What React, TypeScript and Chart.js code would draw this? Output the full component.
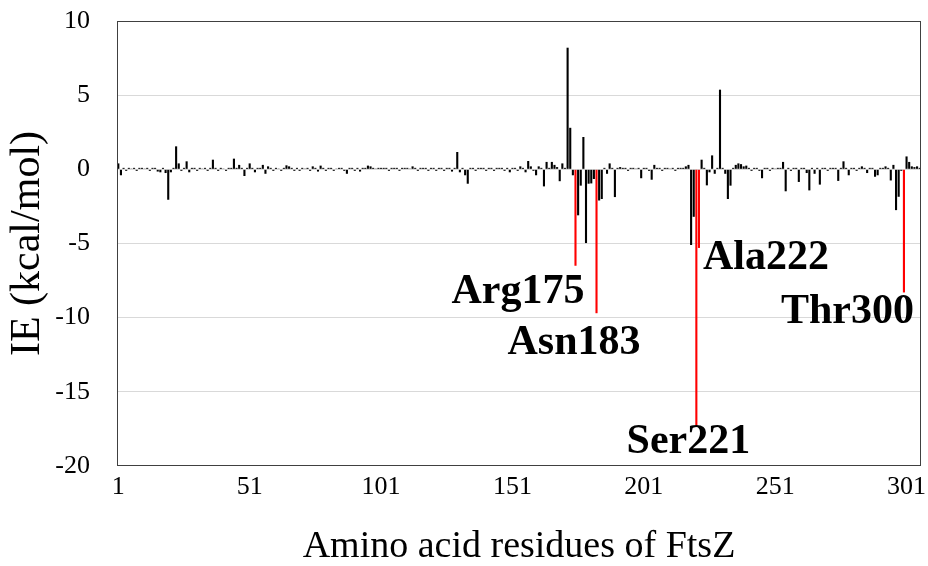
import { useEffect, useRef } from "react";
import { Chart, registerables } from "chart.js";

Chart.register(...registerables);

const FONT = "'Liberation Serif', 'Times New Roman', serif";

// Residue numbers of FtsZ (categories)
const residues: number[] = Array.from({ length: 306 }, (_, i) => i + 1);

// Interaction energy per residue (kcal/mol), residues 1..306
const ieValues: number[] = [
  0.4, -0.4, 0.1, -0.1, 0.1, 0.05, 0.1, -0.1, 0.1, 0.1,
  0.05, 0.1, -0.1, 0.1, 0.1, -0.15, -0.2, 0.1, -0.25, -2.05,
  -0.2, 0.1, 1.55, 0.4, -0.1, 0.1, 0.54, -0.2, 0.1, 0.1,
  -0.1, 0.1, 0.05, 0.1, -0.1, 0.1, 0.65, 0.1, -0.1, 0.1,
  0.05, -0.1, 0.1, 0.1, 0.72, 0.1, 0.3, 0.1, -0.45, 0.1,
  0.4, 0.1, -0.2, 0.1, 0.1, 0.3, -0.3, 0.2, 0.1, -0.1,
  0.1, 0.05, -0.1, 0.1, 0.27, 0.2, 0.1, -0.1, 0.1, -0.1,
  0.1, 0.05, 0.1, -0.1, 0.2, 0.1, -0.15, 0.25, 0.1, -0.1,
  0.1, 0.1, -0.1, 0.05, 0.1, 0.1, -0.1, -0.3, 0.1, 0.1,
  -0.1, 0.1, -0.15, 0.1, 0.1, 0.25, 0.2, 0.1, 0.05, 0.1,
  0.1, 0.1, 0.1, -0.1, 0.1, 0.1, 0.1, -0.1, 0.1, 0.1,
  0.1, 0.05, 0.2, 0.1, -0.1, 0.1, 0.1, 0.1, -0.1, 0.1,
  0.1, -0.1, 0.1, 0.1, -0.1, 0.1, 0.1, -0.15, 0.1, 1.17,
  -0.2, 0.1, -0.4, -0.97, 0.1, 0.1, -0.1, 0.1, 0.1, 0.1,
  -0.1, 0.1, 0.1, -0.1, 0.1, 0.1, 0.1, -0.1, 0.1, -0.2,
  0.1, 0.1, -0.1, 0.2, 0.1, -0.2, 0.56, 0.2, -0.1, -0.4,
  0.2, 0.1, -1.15, 0.5, 0.1, 0.5, 0.3, 0.15, -0.8, 0.4,
  0.1, 8.2, 2.8, -0.4, -6.5, -3.1, -1.1, 2.18, -4.97, -0.97,
  -0.95, -0.65, -9.7, -2.1, -2.0, 0.1, -0.3, 0.4, 0.1, -1.87,
  0.1, 0.15, 0.1, 0.1, -0.1, 0.1, 0.1, 0.05, 0.1, -0.6,
  0.1, 0.1, -0.1, -0.7, 0.3, 0.1, 0.1, -0.1, 0.1, 0.1,
  0.05, 0.1, -0.1, 0.1, 0.1, 0.1, 0.2, 0.3, -5.1, -3.2,
  -17.3, -5.3, 0.65, 0.1, -1.08, -0.2, 0.94, -0.3, 0.1, 5.37,
  0.1, -0.3, -2.0, -1.1, 0.1, 0.3, 0.4, 0.35, 0.2, 0.25,
  0.1, -0.1, 0.1, 0.1, -0.1, -0.6, 0.1, 0.1, -0.1, 0.1,
  0.05, 0.1, 0.1, 0.5, -1.48, 0.1, -0.1, 0.1, 0.1, -0.85,
  0.1, 0.1, -0.25, -1.42, 0.1, -0.3, 0.1, -1.03, 0.1, 0.1,
  -0.1, 0.1, 0.1, 0.1, -0.78, 0.1, 0.54, 0.1, -0.4, 0.1,
  0.1, -0.1, 0.1, 0.2, 0.1, -0.25, 0.1, 0.1, -0.5, -0.4,
  0.1, 0.1, 0.2, 0.1, -0.75, 0.3, -2.75, -1.85, -0.1, -8.3,
  0.87, 0.5, 0.2, 0.15, 0.2, 0.1,
];

// Key residues highlighted in red
const highlightResidues: number[] = [175, 183, 221, 222, 300];
const highlightNames: string[] = ["Arg175", "Asn183", "Ser221", "Ala222", "Thr300"];

// Axis tick labels
const xTickLabels: string[] = ["1", "51", "101", "151", "201", "251", "301"];
const yTickValues: number[] = [10, 5, 0, -5, -10, -15, -20];

// label placement relative to the bar tip (style)
const labelPlacement: { align: CanvasTextAlign; dx: number; dy: number }[] = [
  { align: "right", dx: 9, dy: 26 },
  { align: "right", dx: 44, dy: 30 },
  { align: "center", dx: -8, dy: 16 },
  { align: "left", dx: 4, dy: 10 },
  { align: "right", dx: 10, dy: 20 },
];

const residueLabelPlugin = {
  id: "residueLabels",
  afterDatasetsDraw(chart: any) {
    const { ctx, chartArea, scales } = chart;
    const xs = scales.x;
    const ys = scales.y;
    ctx.save();
    // plot-area frame
    ctx.strokeStyle = "#404040";
    ctx.lineWidth = 1;
    const l = Math.round(chartArea.left) + 0.5;
    const t = Math.round(chartArea.top) + 0.5;
    const r = Math.round(chartArea.right) - 0.5;
    const b = Math.round(chartArea.bottom) - 0.5;
    ctx.strokeRect(l, t, r - l, b - t);
    // residue labels
    ctx.fillStyle = "#000";
    ctx.font = `bold 42px ${FONT}`;
    ctx.textBaseline = "middle";
    highlightResidues.forEach((res, i) => {
      const idx = residues.indexOf(res);
      const px = xs.getPixelForValue(idx);
      const py = ys.getPixelForValue(ieValues[idx]);
      const p = labelPlacement[i];
      ctx.textAlign = p.align;
      ctx.fillText(highlightNames[i], px + p.dx, py + p.dy);
    });
    ctx.restore();
  },
};

export default function App() {
  const canvasRef = useRef<HTMLCanvasElement | null>(null);

  useEffect(() => {
    if (!canvasRef.current) return;
    const colors = residues.map((r) => (highlightResidues.includes(r) ? "#ff0000" : "#000000"));
    const chart = new Chart(canvasRef.current, {
      type: "bar",
      data: {
        labels: residues.map(String),
        datasets: [
          {
            data: ieValues,
            backgroundColor: colors,
            borderWidth: 0,
            categoryPercentage: 1,
            barPercentage: 0.8,
          },
        ],
      },
      options: {
        animation: false,
        responsive: true,
        maintainAspectRatio: false,
        layout: { padding: { top: 21, right: 7, left: 0, bottom: 0 } },
        plugins: { legend: { display: false }, tooltip: { enabled: false } },
        scales: {
          x: {
            grid: { display: false, drawTicks: false },
            border: { display: false },
            ticks: {
              autoSkip: false,
              maxRotation: 0,
              minRotation: 0,
              padding: 6,
              color: "#000",
              font: { family: FONT, size: 26 },
              callback: (_v: any, i: number) => {
                const s = String(residues[i]);
                return xTickLabels.includes(s) ? s : "";
              },
            },
            title: {
              display: true,
              text: "Amino acid residues of FtsZ",
              color: "#000",
              font: { family: FONT, size: 38, lineHeight: 1 },
              padding: { top: 0, bottom: 0 },
            },
            afterFit: (s: any) => {
              s.height = 100;
              s.paddingLeft = 0;
              s.paddingRight = 0;
            },
          },
          y: {
            min: -20,
            max: 10,
            afterBuildTicks: (s: any) => {
              s.ticks = yTickValues.map((v) => ({ value: v }));
            },
            grid: {
              drawTicks: false,
              color: (c: any) =>
                c.tick && (c.tick.value === 10 || c.tick.value === -20) ? "rgba(0,0,0,0)" : "#d9d9d9",
            },
            border: { display: false },
            ticks: {
              padding: 27,
              color: "#000",
              font: { family: FONT, size: 26 },
            },
            title: {
              display: true,
              text: "IE (kcal/mol)",
              color: "#000",
              font: { family: FONT, size: 42, lineHeight: 1 },
              padding: { top: 7, bottom: 0 },
            },
            afterFit: (s: any) => {
              s.width = 117;
              s.paddingTop = 0;
              s.paddingBottom = 0;
            },
          },
        },
      },
      plugins: [residueLabelPlugin],
    });
    return () => chart.destroy();
  }, []);

  return (
    <div style={{ position: "absolute", left: 0, top: 0, width: 928, height: 566, background: "#fff" }}>
      <canvas ref={canvasRef} />
    </div>
  );
}
